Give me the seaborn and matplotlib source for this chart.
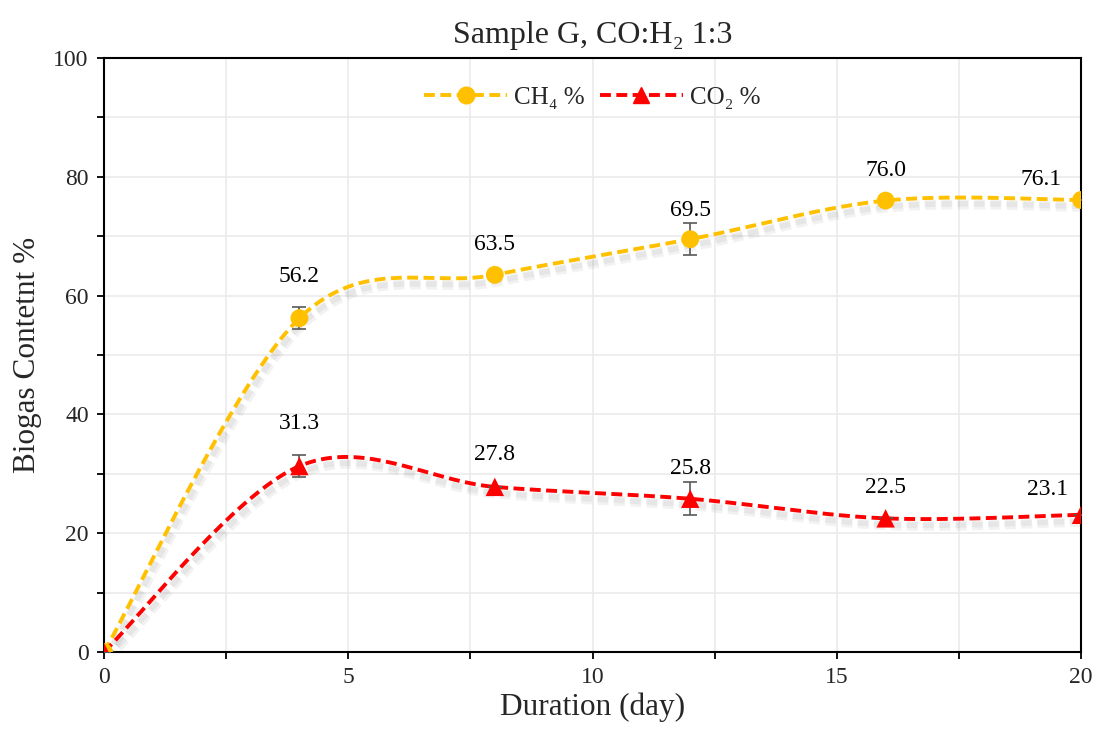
import numpy as np
import pandas as pd
import seaborn as sns
import matplotlib
matplotlib.use("Agg")
import matplotlib.pyplot as plt
import matplotlib.patheffects as pe
from matplotlib.ticker import MultipleLocator
from matplotlib.lines import Line2D

# ---------------- data ----------------
days = [0, 4, 8, 12, 16, 20]
ch4 = [0.0, 56.2, 63.5, 69.5, 76.0, 76.1]
co2 = [0.0, 31.3, 27.8, 25.8, 22.5, 23.1]
ch4_err = [0.0, 1.8, 0.0, 2.7, 0.0, 0.0]
co2_err = [0.0, 1.8, 0.0, 2.8, 0.0, 0.0]
ch4_labels = ["", "56.2", "63.5", "69.5", "76.0", "76.1"]
co2_labels = ["", "31.3", "27.8", "25.8", "22.5", "23.1"]
series_names = ["CH\u2084 %", "CO\u2082 %"]
title = "Sample G, CO:H\u2082 1:3"
xlabel = "Duration (day)"
ylabel = "Biogas Contetnt %"

# ---------------- style ----------------
sns.set_theme(style="white")
plt.rcParams["font.family"] = ["Liberation Serif", "DejaVu Serif"]

C_CH4 = "#FFC000"
C_CO2 = "#FF0000"
LW = 2.8
DASH = (0, (2.8, 1.4))


def smooth(x, y, n=40):
    """Excel-like smoothed line: cubic Bezier through the points with
    Catmull-Rom style control points (parametric)."""
    P = np.column_stack([x, y]).astype(float)
    out = [P[0]]
    m = len(P)
    for i in range(m - 1):
        p0 = P[i - 1] if i > 0 else P[i]
        p1 = P[i]
        p2 = P[i + 1]
        p3 = P[i + 2] if i + 2 < m else P[i + 1]
        c1 = p1 + (p2 - p0) / 6.0
        c2 = p2 - (p3 - p1) / 6.0
        t = np.linspace(0, 1, n)[1:, None]
        seg = ((1 - t) ** 3) * p1 + 3 * ((1 - t) ** 2) * t * c1 + 3 * (1 - t) * t ** 2 * c2 + t ** 3 * p2
        out.extend(seg)
    out = np.array(out)
    return out[:, 0], out[:, 1]


fig = plt.figure(figsize=(11.04, 7.39), dpi=100)
ax = fig.add_axes([0.0942, 0.1177, 0.8850, 0.8038])

shadow = [pe.SimpleLineShadow(offset=(2, -5), shadow_color="#808080", alpha=0.10, linewidth=7),
          pe.SimpleLineShadow(offset=(1.5, -4.5), shadow_color="#808080", alpha=0.10, linewidth=4),
          pe.Normal()]

for xs, ys, col in [(days, ch4, C_CH4), (days, co2, C_CO2)]:
    sx, sy = smooth(xs, ys)
    df = pd.DataFrame({"x": sx, "y": sy})
    sns.lineplot(data=df, x="x", y="y", sort=False, ax=ax, color=col, lw=LW,
                 linestyle=DASH, path_effects=shadow, zorder=3)

for ys, err in [(ch4, ch4_err), (co2, co2_err)]:
    ax.errorbar(days, ys, yerr=err, fmt="none", ecolor="#595959", elinewidth=1.2,
                capsize=5, capthick=1.2, zorder=4)

sns.scatterplot(x=days, y=ch4, ax=ax, color=C_CH4, marker="o", s=165, edgecolor="none", zorder=5)
sns.scatterplot(x=days, y=co2, ax=ax, color=C_CO2, marker="^", s=175, edgecolor="none", zorder=5)

# data labels (offsets in points, label centre relative to the point)
ch4_off = [(0, 0), (0, 30), (0, 22), (0, 21), (0, 22), (-29, 15)]
co2_off = [(0, 0), (0, 31), (0, 23), (0, 22), (0, 22), (-24, 18)]
for i, d in enumerate(days):
    if ch4_labels[i]:
        ax.annotate(ch4_labels[i], (d, ch4[i]), xytext=ch4_off[i], textcoords="offset points",
                    ha="center", va="center", fontsize=17, color="black", zorder=6)
    if co2_labels[i]:
        ax.annotate(co2_labels[i], (d, co2[i]), xytext=co2_off[i], textcoords="offset points",
                    ha="center", va="center", fontsize=17, color="black", zorder=6)

# legend
handles = [Line2D([], [], color=C_CH4, lw=LW, linestyle=DASH, marker="o", markersize=12),
           Line2D([], [], color=C_CO2, lw=LW, linestyle=DASH, marker="^", markersize=12)]
ax.legend(handles, series_names, loc="upper center", bbox_to_anchor=(0.5, 0.99), ncol=2,
          frameon=False, fontsize=18, handlelength=3.3, handletextpad=0.3, columnspacing=0.6)

ax.set_xlim(0, 20)
ax.set_ylim(0, 100)
ax.xaxis.set_major_locator(MultipleLocator(5))
ax.xaxis.set_minor_locator(MultipleLocator(2.5))
ax.yaxis.set_major_locator(MultipleLocator(20))
ax.yaxis.set_minor_locator(MultipleLocator(10))
ax.grid(True, which="both", color="#ebebeb", lw=1.2, zorder=0)
ax.set_axisbelow(True)
ax.tick_params(which="both", direction="out", length=5, width=1.3, color="black",
               bottom=True, left=True, labelsize=17, pad=6)
for s in ax.spines.values():
    s.set_visible(True)
    s.set_color("black")
    s.set_linewidth(1.5)

ax.set_title(title, fontsize=23, pad=11)
ax.set_xlabel(xlabel, fontsize=22.5, labelpad=3)
ax.set_ylabel(ylabel, fontsize=22.5, labelpad=8)

fig.savefig("out.png", dpi=100)
